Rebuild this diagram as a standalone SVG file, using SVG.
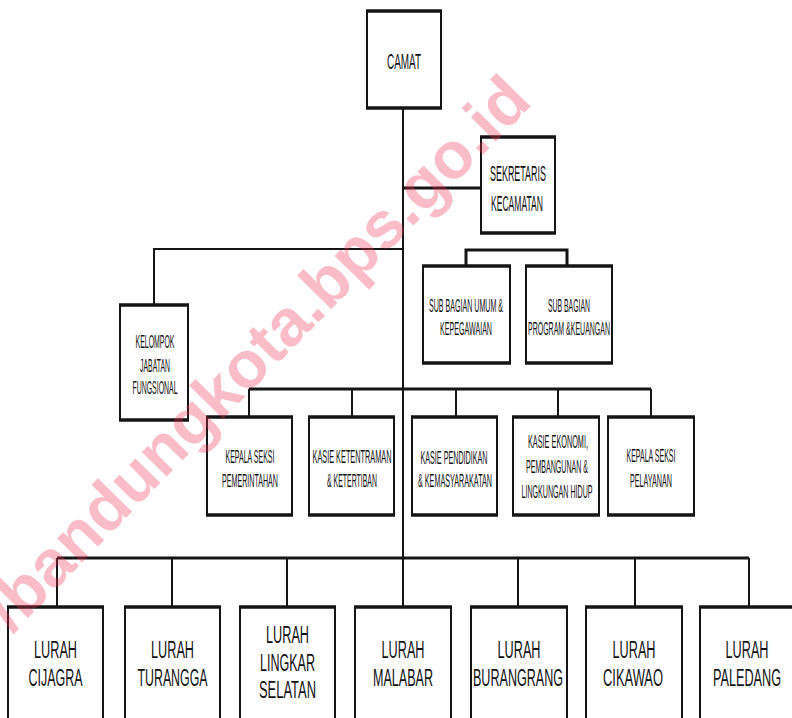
<svg xmlns="http://www.w3.org/2000/svg" width="792" height="718" viewBox="0 0 792 718">
<style>
.box{fill:#fff;stroke:#151515;stroke-width:2}
.bt{stroke:#151515;stroke-width:3.5}
.ln{stroke:#151515;stroke-width:2;fill:none}
.lt{stroke:#151515;stroke-width:3;fill:none}
text{font-family:"Liberation Sans",Arial,sans-serif;fill:#111;text-anchor:middle}
.f22{font-size:22px}
.f19{font-size:19px}
.f23{font-size:23px}
.wm{font-family:"Liberation Sans",Arial,sans-serif;font-weight:bold;font-size:66px;fill:#f0304f;fill-opacity:0.32;text-anchor:start}
</style>
<rect width="792" height="718" fill="#fff"/>
<g id="connectors">
<line class="ln" x1="403" y1="108" x2="403" y2="607"/>
<line class="lt" x1="403" y1="188" x2="481" y2="188"/>
<polyline class="ln" points="154,305 154,249 403,249"/>
<polyline class="lt" points="466,266 466,250 567,250 567,266"/>
<line class="lt" x1="249" y1="389" x2="651" y2="389"/>
<line class="ln" x1="249" y1="389" x2="249" y2="417"/>
<line class="ln" x1="352" y1="389" x2="352" y2="417"/>
<line class="ln" x1="456" y1="389" x2="456" y2="417"/>
<line class="ln" x1="558" y1="389" x2="558" y2="417"/>
<line class="ln" x1="651" y1="389" x2="651" y2="417"/>
<line class="lt" x1="57" y1="558" x2="749" y2="558"/>
<line class="ln" x1="57" y1="558" x2="57" y2="607"/>
<line class="ln" x1="172" y1="558" x2="172" y2="607"/>
<line class="ln" x1="287" y1="558" x2="287" y2="607"/>
<line class="ln" x1="518" y1="558" x2="518" y2="607"/>
<line class="ln" x1="635" y1="558" x2="635" y2="607"/>
<line class="ln" x1="749" y1="558" x2="749" y2="607"/>
</g>
<g id="camat">
<rect class="box" x="367" y="11" width="74" height="97"/>
<line class="bt" x1="366" y1="11" x2="442" y2="11"/><line class="bt" x1="366" y1="108" x2="442" y2="108"/>
<text class="f22" x="404" y="69" textLength="34" lengthAdjust="spacingAndGlyphs">CAMAT</text>
</g>
<g id="sekretaris">
<rect class="box" x="481" y="137" width="74" height="96"/>
<line class="bt" x1="480" y1="137" x2="556" y2="137"/><line class="bt" x1="480" y1="233" x2="556" y2="233"/>
<text class="f22" x="518" y="181" textLength="56" lengthAdjust="spacingAndGlyphs">SEKRETARIS</text>
<text class="f22" x="517" y="211" textLength="52" lengthAdjust="spacingAndGlyphs">KECAMATAN</text>
</g>
<g id="subumum">
<rect class="box" x="423" y="266" width="87" height="97"/>
<line class="bt" x1="422" y1="266" x2="511" y2="266"/><line class="bt" x1="422" y1="363" x2="511" y2="363"/>
<text class="f19" x="466" y="312" textLength="74" lengthAdjust="spacingAndGlyphs">SUB BAGIAN UMUM &amp;</text>
<text class="f19" x="466" y="335" textLength="52" lengthAdjust="spacingAndGlyphs">KEPEGAWAIAN</text>
</g>
<g id="subprogram">
<rect class="box" x="526" y="266" width="86" height="97"/>
<line class="bt" x1="525" y1="266" x2="613" y2="266"/><line class="bt" x1="525" y1="363" x2="613" y2="363"/>
<text class="f19" x="569" y="312" textLength="42" lengthAdjust="spacingAndGlyphs">SUB BAGIAN</text>
<text class="f19" x="569" y="335" textLength="82" lengthAdjust="spacingAndGlyphs">PROGRAM &amp;KEUANGAN</text>
</g>
<g id="kelompok">
<rect class="box" x="120" y="305" width="68" height="115"/>
<line class="bt" x1="119" y1="305" x2="189" y2="305"/><line class="bt" x1="119" y1="420" x2="189" y2="420"/>
<text class="f19" x="155" y="348" textLength="39" lengthAdjust="spacingAndGlyphs">KELOMPOK</text>
<text class="f19" x="155" y="372" textLength="30" lengthAdjust="spacingAndGlyphs">JABATAN</text>
<text class="f19" x="155" y="394" textLength="45" lengthAdjust="spacingAndGlyphs">FUNGSIONAL</text>
</g>
<g id="kasi-pemerintahan">
<rect class="box" x="207" y="417" width="85" height="98"/>
<line class="bt" x1="206" y1="417" x2="293" y2="417"/><line class="bt" x1="206" y1="515" x2="293" y2="515"/>
<text class="f19" x="250" y="463" textLength="49" lengthAdjust="spacingAndGlyphs">KEPALA SEKSI</text>
<text class="f19" x="250" y="487" textLength="56" lengthAdjust="spacingAndGlyphs">PEMERINTAHAN</text>
</g>
<g id="kasi-ketentraman">
<rect class="box" x="309" y="417" width="85" height="98"/>
<line class="bt" x1="308" y1="417" x2="395" y2="417"/><line class="bt" x1="308" y1="515" x2="395" y2="515"/>
<text class="f19" x="352" y="463" textLength="79" lengthAdjust="spacingAndGlyphs">KASIE KETENTRAMAN</text>
<text class="f19" x="352" y="487" textLength="50" lengthAdjust="spacingAndGlyphs">&amp; KETERTIBAN</text>
</g>
<g id="kasi-pendidikan">
<rect class="box" x="412" y="417" width="85" height="98"/>
<line class="bt" x1="411" y1="417" x2="498" y2="417"/><line class="bt" x1="411" y1="515" x2="498" y2="515"/>
<text class="f19" x="454" y="464" textLength="67" lengthAdjust="spacingAndGlyphs">KASIE PENDIDIKAN</text>
<text class="f19" x="455" y="487" textLength="74" lengthAdjust="spacingAndGlyphs">&amp; KEMASYARAKATAN</text>
</g>
<g id="kasi-ekonomi">
<rect class="box" x="513" y="417" width="86" height="98"/>
<line class="bt" x1="512" y1="417" x2="600" y2="417"/><line class="bt" x1="512" y1="515" x2="600" y2="515"/>
<text class="f19" x="558" y="448" textLength="60" lengthAdjust="spacingAndGlyphs">KASIE EKONOMI,</text>
<text class="f19" x="557" y="473" textLength="62" lengthAdjust="spacingAndGlyphs">PEMBANGUNAN &amp;</text>
<text class="f19" x="557" y="498" textLength="71" lengthAdjust="spacingAndGlyphs">LINGKUNGAN HIDUP</text>
</g>
<g id="kasi-pelayanan">
<rect class="box" x="608" y="417" width="86" height="98"/>
<line class="bt" x1="607" y1="417" x2="695" y2="417"/><line class="bt" x1="607" y1="515" x2="695" y2="515"/>
<text class="f19" x="651" y="462" textLength="49" lengthAdjust="spacingAndGlyphs">KEPALA SEKSI</text>
<text class="f19" x="651" y="487" textLength="42" lengthAdjust="spacingAndGlyphs">PELAYANAN</text>
</g>
<g id="lurah-cijagra">
<rect class="box" x="8" y="607" width="95" height="120"/>
<line class="bt" x1="7" y1="607" x2="104" y2="607"/>
<text class="f23" x="55.5" y="658" textLength="43" lengthAdjust="spacingAndGlyphs">LURAH</text>
<text class="f23" x="55.5" y="686" textLength="54" lengthAdjust="spacingAndGlyphs">CIJAGRA</text>
</g>
<g id="lurah-turangga">
<rect class="box" x="125" y="607" width="95" height="120"/>
<line class="bt" x1="124" y1="607" x2="221" y2="607"/>
<text class="f23" x="172.5" y="658" textLength="43" lengthAdjust="spacingAndGlyphs">LURAH</text>
<text class="f23" x="172.5" y="686" textLength="70" lengthAdjust="spacingAndGlyphs">TURANGGA</text>
</g>
<g id="lurah-lingkar-selatan">
<rect class="box" x="240" y="607" width="95" height="120"/>
<line class="bt" x1="239" y1="607" x2="336" y2="607"/>
<text class="f23" x="287.5" y="643" textLength="43" lengthAdjust="spacingAndGlyphs">LURAH</text>
<text class="f23" x="287.5" y="671" textLength="55" lengthAdjust="spacingAndGlyphs">LINGKAR</text>
<text class="f23" x="287.5" y="698" textLength="57" lengthAdjust="spacingAndGlyphs">SELATAN</text>
</g>
<g id="lurah-malabar">
<rect class="box" x="355" y="607" width="96" height="120"/>
<line class="bt" x1="354" y1="607" x2="452" y2="607"/>
<text class="f23" x="403" y="658" textLength="43" lengthAdjust="spacingAndGlyphs">LURAH</text>
<text class="f23" x="403" y="686" textLength="60" lengthAdjust="spacingAndGlyphs">MALABAR</text>
</g>
<g id="lurah-burangrang">
<rect class="box" x="471" y="607" width="96" height="120"/>
<line class="bt" x1="470" y1="607" x2="568" y2="607"/>
<text class="f23" x="519" y="658" textLength="43" lengthAdjust="spacingAndGlyphs">LURAH</text>
<text class="f23" x="518" y="686" textLength="90" lengthAdjust="spacingAndGlyphs">BURANGRANG</text>
</g>
<g id="lurah-cikawao">
<rect class="box" x="586" y="607" width="96" height="120"/>
<line class="bt" x1="585" y1="607" x2="683" y2="607"/>
<text class="f23" x="634" y="658" textLength="43" lengthAdjust="spacingAndGlyphs">LURAH</text>
<text class="f23" x="633" y="686" textLength="60" lengthAdjust="spacingAndGlyphs">CIKAWAO</text>
</g>
<g id="lurah-paledang">
<rect class="box" x="700" y="607" width="96" height="120"/>
<line class="bt" x1="699" y1="607" x2="797" y2="607"/>
<text class="f23" x="747" y="658" textLength="43" lengthAdjust="spacingAndGlyphs">LURAH</text>
<text class="f23" x="747" y="686" textLength="68" lengthAdjust="spacingAndGlyphs">PALEDANG</text>
</g>
<g id="watermark">
<text class="wm" transform="translate(12,634) rotate(-45.5)">/bandungkota.bps.go.id</text>
</g>
</svg>
